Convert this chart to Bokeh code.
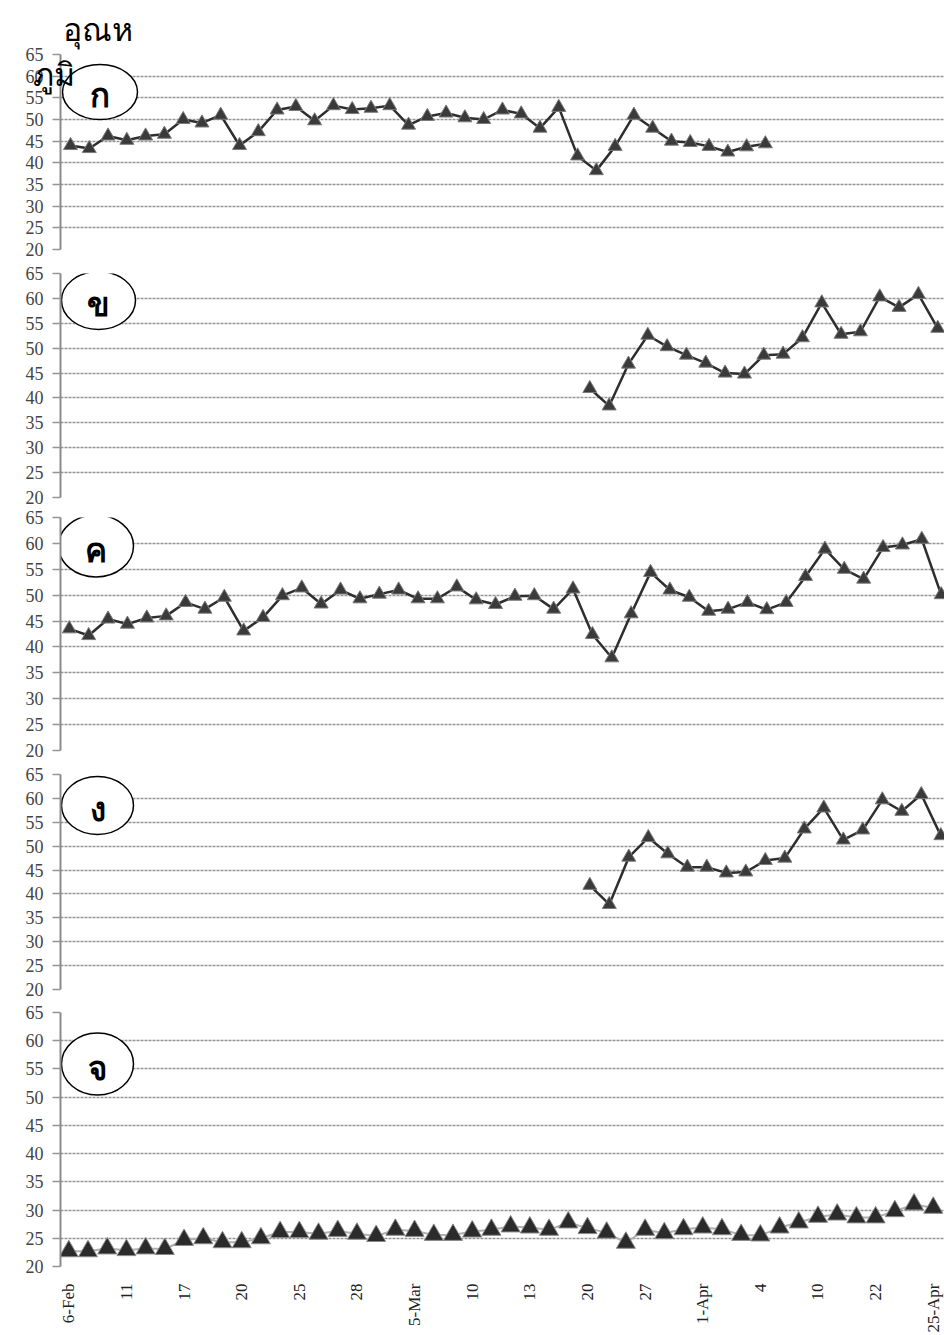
import math
from bokeh.plotting import figure
from bokeh.layouts import column
from bokeh.models import Range1d, FixedTicker, LinearAxis
from bokeh.core.properties import value
from bokeh.embed import file_html
from bokeh.resources import INLINE

N = None

# ---------------- data ----------------
TICK_LABELS = ["6-Feb", "11", "17", "20", "25", "28", "5-Mar", "10", "13",
               "20", "27", "1-Apr", "4", "10", "22", "25-Apr"]
N_DATES = 46
TICK_EVERY = 3
Y_TICKS = [20, 25, 30, 35, 40, 45, 50, 55, 60, 65]
Y_TITLE = ["อุณห", "ภูมิ"]
PANEL_LETTERS = ["ก", "ข", "ค", "ง", "จ"]

SERIES_KO = [44.0, 43.3, 46.2, 45.2, 46.2, 46.6, 50.0, 49.2, 51.0, 44.0,
             47.2, 52.2, 53.0, 49.7, 53.2, 52.3, 52.6, 53.2, 48.7, 50.7,
             51.5, 50.4, 50.0, 52.2, 51.3, 48.0, 52.8, 41.6, 38.2, 43.8,
             51.0, 48.0, 45.0, 44.7, 43.8, 42.5, 43.7, 44.4] + [N] * 8
SERIES_KHO = [N] * 27 + [41.9, 38.4, 46.8, 52.6, 50.3, 48.6, 47.0, 45.0, 44.8,
                         48.6, 48.8, 52.1, 59.1, 52.8, 53.3, 60.3, 58.2, 60.8, 54.0]
SERIES_KHO_KHWAI = [43.5, 42.2, 45.4, 44.4, 45.6, 46.0, 48.6, 47.3, 49.6, 43.1,
                    45.7, 49.9, 51.4, 48.3, 51.0, 49.3, 50.2, 51.0, 49.3, 49.3,
                    51.6, 49.1, 48.2, 49.8, 49.9, 47.3, 51.2, 42.4, 37.9, 46.4,
                    54.4, 51.0, 49.6, 46.9, 47.3, 48.6, 47.2, 48.6, 53.6, 58.9,
                    55.0, 53.1, 59.2, 59.7, 60.8, 50.1]
SERIES_NGO = [N] * 27 + [41.8, 37.8, 47.7, 51.8, 48.4, 45.6, 45.6, 44.4, 44.6,
                         47.0, 47.5, 53.6, 58.0, 51.3, 53.4, 59.7, 57.3, 60.8, 52.2]
SERIES_CHO = [22.7, 22.7, 23.2, 22.9, 23.2, 23.1, 24.7, 25.0, 24.3, 24.3,
              25.0, 26.1, 26.1, 25.8, 26.3, 25.8, 25.4, 26.5, 26.3, 25.6,
              25.6, 26.2, 26.5, 27.1, 26.9, 26.5, 27.8, 26.8, 26.0, 24.2,
              26.5, 25.9, 26.6, 26.9, 26.6, 25.6, 25.5, 26.9, 27.8, 28.8,
              29.2, 28.7, 28.7, 29.8, 31.0, 30.4]

SERIES = [SERIES_KO, SERIES_KHO, SERIES_KHO_KHWAI, SERIES_NGO, SERIES_CHO]

# ---------------- layout / style ----------------
FIG_W = 944
FRAME_LEFT = 60          # px from figure left to plot frame
FRAME_W = FIG_W - FRAME_LEFT
THAI_FONT = "Noto Sans"
NUM_FONT = "Liberation Serif"

# per panel: borders, frame height, x scale (first category px from frame left, px per category),
# badge (dx, dy of centre from frame top-left, w, h)
LAYOUT = [
    dict(top=49, frame=200, bottom=12, first=10.0, step=18.78, badge=(39.5, 38.5, 75, 55)),
    dict(top=12, frame=224, bottom=10, first=7.4, step=19.33, badge=(38.0, 27.0, 74, 58)),
    dict(top=10, frame=233, bottom=11, first=8.8, step=19.375, badge=(35.5, 28.5, 75, 62)),
    dict(top=13, frame=215, bottom=11, first=2.8, step=19.5, badge=(37.0, 31.0, 72, 58)),
    dict(top=12, frame=256, bottom=67, first=8.3, step=19.21, badge=(37.0, 52.0, 72, 62)),
]

LETTER_SIZE = "33px"
LETTER_DROP = 3          # px below badge centre
TITLE_SIZE = "32px"
TITLE_STANDOFF = 9
TITLE2_LEVEL = 60.6      # y level (data) at which the second title line sits
TITLE2_SHIFT = -52       # label standoff pulling it towards the frame


def clean(vals):
    return [float("nan") if v is None else v for v in vals]


X = list(range(N_DATES))
TICK_POS = list(range(0, N_DATES, TICK_EVERY))

figs = []
for i, (series, letter, lay) in enumerate(zip(SERIES, PANEL_LETTERS, LAYOUT)):
    last = i == len(SERIES) - 1
    step = lay["step"]
    x0 = -lay["first"] / step
    x1 = x0 + FRAME_W / step
    fh = lay["frame"]
    p = figure(width=FIG_W, height=lay["top"] + fh + lay["bottom"],
               x_range=Range1d(x0, x1), y_range=Range1d(20, 65),
               output_backend="svg", toolbar_location=None,
               min_border_left=FRAME_LEFT, min_border_right=0,
               min_border_top=lay["top"], min_border_bottom=lay["bottom"])
    p.outline_line_color = None
    p.background_fill_color = "white"
    p.border_fill_color = "white"

    # grid
    p.xgrid.visible = False
    p.ygrid.ticker = FixedTicker(ticks=Y_TICKS)
    p.ygrid.grid_line_color = "#959595"
    p.ygrid.grid_line_width = 1.7
    p.ygrid.grid_line_dash = "3 1"

    # y axis
    ya = p.yaxis[0]
    ya.ticker = FixedTicker(ticks=Y_TICKS)
    ya.axis_line_color = "#8a8a8a"
    ya.axis_line_width = 2
    ya.major_tick_line_color = "#959595"
    ya.major_tick_line_width = 1.7
    ya.major_tick_out = 8
    ya.major_tick_in = 0
    ya.minor_tick_line_color = None
    ya.major_label_standoff = 9
    ya.major_label_text_font = NUM_FONT
    ya.major_label_text_font_size = "18px"
    ya.major_label_text_color = "#444444"

    # x axis
    xa = p.xaxis[0]
    if last:
        xa.ticker = FixedTicker(ticks=TICK_POS)
        xa.major_label_overrides = {t: lab for t, lab in zip(TICK_POS, TICK_LABELS)}
        xa.major_label_orientation = math.pi / 2
        xa.axis_line_color = None
        xa.major_tick_line_color = None
        xa.major_tick_out = 0
        xa.major_tick_in = 0
        xa.minor_tick_line_color = None
        xa.minor_tick_out = 0
        xa.major_label_standoff = 17
        xa.major_label_text_font = NUM_FONT
        xa.major_label_text_font_size = "17px"
        xa.major_label_text_color = "#222222"
    else:
        xa.visible = False

    ys = clean(series)
    if last:
        p.line(X, ys, line_color="#b0b0b0", line_width=2)
        p.scatter(X, ys, marker="triangle", size=19, fill_color="#2b2b2b",
                  line_color="#8a8a8a", line_width=1)
    else:
        p.line(X, ys, line_color="#2e2e2e", line_width=2.5)
        p.scatter(X, ys, marker="triangle", size=14, fill_color="#3a3a3a",
                  line_color="#7a7a7a", line_width=1)

    # badge with panel letter
    dx, dy, bw, bh = lay["badge"]
    to_y = lambda d: 65 - d / fh * 45
    bx = x0 + dx / step
    p.ellipse(x=[bx], y=[to_y(dy)], width=bw, height=bh,
              width_units="screen", height_units="screen",
              fill_color="white", line_color="black", line_width=1.5)
    p.text(x=[bx], y=[to_y(dy + LETTER_DROP)], text=[letter], text_font=value(THAI_FONT),
           text_font_size=LETTER_SIZE, text_font_style="bold",
           text_align="center", text_baseline="middle", text_color="black")

    if i == 0:
        # first line of the y title sits above the plot frame
        p.title.text = Y_TITLE[0]
        p.title.align = "left"
        p.title.offset = 2
        p.title.standoff = TITLE_STANDOFF
        p.title.text_font = THAI_FONT
        p.title.text_font_size = TITLE_SIZE
        p.title.text_font_style = "normal"
        p.title.text_color = "black"
        # second line of the y title, beside the tick labels
        ax2 = LinearAxis(ticker=FixedTicker(ticks=[TITLE2_LEVEL]),
                         major_label_overrides={TITLE2_LEVEL: Y_TITLE[1]},
                         axis_line_color=None, major_tick_line_color=None,
                         minor_tick_line_color=None, major_tick_out=0, major_tick_in=0,
                         minor_tick_out=0, minor_tick_in=0,
                         major_label_standoff=TITLE2_SHIFT,
                         major_label_text_font=THAI_FONT,
                         major_label_text_font_size=TITLE_SIZE,
                         major_label_text_color="black")
        p.add_layout(ax2, "left")
    figs.append(p)

layout = column(*figs, spacing=0)
open("out.html", "w").write(file_html(layout, INLINE))
